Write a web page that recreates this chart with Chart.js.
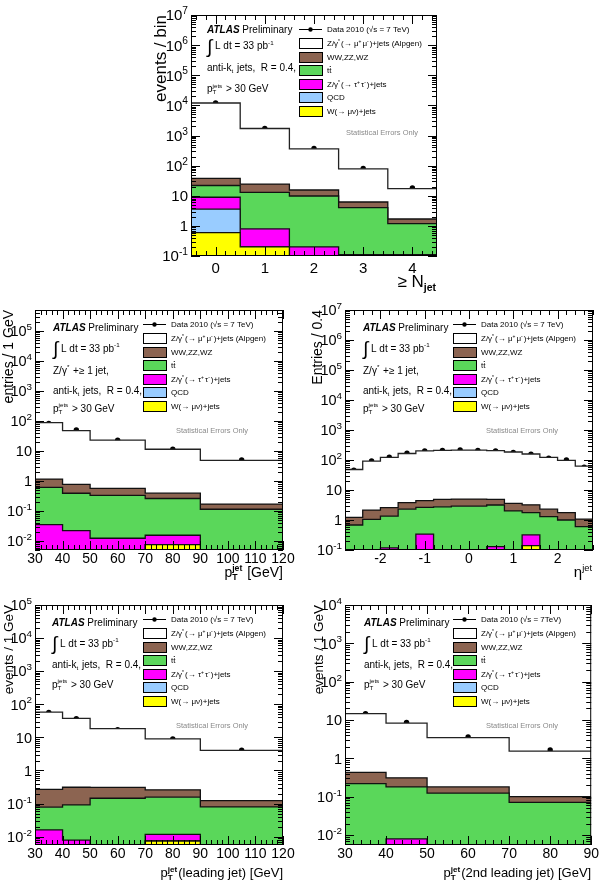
<!DOCTYPE html>
<html lang="en">
<head>
<meta charset="UTF-8">
<title>Z+jets control distributions</title>
<style>
  body { margin: 0; background: #fff; width: 600px; height: 887px; position: relative; overflow: hidden; }
  canvas { position: absolute; }
</style>
</head>
<body>
<canvas id="cNjet" width="330" height="300" style="left:130px;top:0px"></canvas>
<canvas id="cPt" width="300" height="290" style="left:0px;top:300px"></canvas>
<canvas id="cEta" width="300" height="290" style="left:300px;top:300px"></canvas>
<canvas id="cLead" width="300" height="297" style="left:0px;top:590px"></canvas>
<canvas id="cSecond" width="300" height="297" style="left:300px;top:590px"></canvas>

<script src="https://cdn.jsdelivr.net/npm/chart.js@4.4.0/dist/chart.umd.min.js"></script>
<script>
// ---- inclusive jet multiplicity ----
const njetEdges = [-0.5, 0.5, 1.5, 2.5, 3.5, 4.5];
const njetTicks = [0, 1, 2, 3, 4];
const njetYTicks = [0.1, 1, 10, 100, 1e3, 1e4, 1e5, 1e6, 1e7];
const njetData = [12000, 1700, 370, 80, 18];
const njetZmumu = [11960, 1680, 345, 72, 15.5];
const njetDiboson = [16, 11.5, 5.7, 2.2, 0.5];
const njetTtbar = [13, 12.2, 9.6, 3.9, 1.08];
const njetZtautau = [5.3, 0.6, 0.2, 0.11, 0.11];
const njetQCD = [3.0, 0, 0, 0, 0];
const njetWmunu = [0.6, 0.2, 0, 0, 0];

// ---- jet pT (all jets) ----
const ptEdges = [30, 40, 50, 70, 90, 120];
const ptTicks = [30, 40, 50, 60, 70, 80, 90, 100, 110, 120];
const ptYTicks = [0.01, 0.1, 1, 10, 100, 1e3, 1e4, 1e5];
const ptData = [83, 50, 23, 11.4, 5.0];
const ptZmumu = [87, 47, 22.4, 11, 4.7];
const ptDiboson = [0.55, 0.38, 0.24, 0.13, 0.056];
const ptTtbar = [0.575, 0.368, 0.318, 0.245, 0.114];
const ptZtautau = [0.035, 0.022, 0.0123, 0.008, 0];
const ptQCD = [0, 0, 0, 0, 0];
const ptWmunu = [0, 0, 0, 0.0075, 0];

// ---- jet eta ----
const etaEdges = [-2.8, -2.4, -2.0, -1.6, -1.2, -0.8, -0.4, 0, 0.4, 0.8, 1.2, 1.6, 2.0, 2.4, 2.8];
const etaTicks = [-2, -1, 0, 1, 2];
const etaYTicks = [0.1, 1, 10, 100, 1e3, 1e4, 1e5, 1e6, 1e7];
const etaData = [46, 93, 124, 167, 200, 210, 215, 210, 200, 180, 155, 115, 100, 57];
const etaZmumu = [47, 90, 119, 161, 196, 205, 210, 207, 200, 181, 155, 120, 96, 61];
const etaDiboson = [0.55, 1.1, 1.25, 1.5, 1.75, 2.15, 2.1, 2.1, 1.74, 1.6, 1.45, 1.0, 0.75, 0.47];
const etaTtbar = [0.68, 1.05, 1.23, 2.3, 2.31, 2.75, 2.9, 2.9, 3.03, 2.0, 1.43, 1.29, 1.0, 0.6];
const etaZtautau = [0, 0, 0.117, 0, 0.34, 0, 0, 0, 0.13, 0, 0.18, 0, 0, 0];
const etaQCD = [0, 0, 0, 0, 0, 0, 0, 0, 0, 0, 0, 0, 0, 0];
const etaWmunu = [0, 0, 0, 0, 0, 0, 0, 0, 0, 0, 0.14, 0, 0, 0];

// ---- leading jet pT ----
const leadEdges = [30, 40, 50, 70, 90, 120];
const leadTicks = [30, 40, 50, 60, 70, 80, 90, 100, 110, 120];
const leadYTicks = [0.01, 0.1, 1, 10, 100, 1e3, 1e4, 1e5];
const leadData = [57, 37, 17, 8.9, 4.1];
const leadZmumu = [58, 37, 18, 8.7, 3.9];
const leadDiboson = [0.19, 0.22, 0.165, 0.105, 0.044];
const leadTtbar = [0.062, 0.083, 0.145, 0.144, 0.079];
const leadZtautau = [0.016, 0.0079, 0, 0.0043, 0];
const leadQCD = [0, 0, 0, 0, 0];
const leadWmunu = [0, 0, 0, 0.0074, 0];

// ---- 2nd leading jet pT ----
const secEdges = [30, 40, 50, 70, 90];
const secTicks = [30, 40, 50, 60, 70, 80, 90];
const secYTicks = [0.01, 0.1, 1, 10, 100, 1e3, 1e4];
const secData = [14.7, 8.7, 3.6, 1.65];
const secZmumu = [14.3, 8.0, 3.3, 1.45];
const secDiboson = [0.21, 0.13, 0.056, 0.029];
const secTtbar = [0.22, 0.172, 0.124, 0.071];
const secZtautau = [0, 0.0079, 0, 0];
const secQCD = [0, 0, 0, 0];
const secWmunu = [0, 0, 0, 0];

// stack order, bottom -> top: W, QCD, Z->tautau, ttbar, diboson, Z->mumu
const fillColors = ['#ffff00', '#99ccff', '#ff00ff', '#5ad75a', '#8c6451', '#ffffff'];
const FONT = '"Liberation Sans", Arial, sans-serif';
Chart.defaults.font.family = FONT;
Chart.defaults.color = '#000';

// text with sub/superscripts; returns width
function drawRich(ctx, x, y, parts, size, measureOnly) {
    let cx = x;
    const f = (s, style) => (style || '') + ' ' + s + 'px ' + FONT;
    for (const p of parts) {
        if (typeof p === 'string') {
            ctx.font = f(size);
            if (!measureOnly) ctx.fillText(p, cx, y);
            cx += ctx.measureText(p).width;
        } else if (p.bi) {
            ctx.font = f(size, 'italic bold');
            if (!measureOnly) ctx.fillText(p.bi, cx, y);
            cx += ctx.measureText(p.bi).width;
        } else if (p.big) {
            ctx.font = f(size * 1.9);
            if (!measureOnly) ctx.fillText(p.big, cx, y + size * 0.35);
            cx += ctx.measureText(p.big).width;
        } else if (p.over) {
            ctx.font = f(size);
            const w = ctx.measureText(p.over).width;
            if (!measureOnly) {
                ctx.fillText(p.over, cx, y);
                ctx.fillRect(cx + 0.5, y - size * 0.85, w - 1, 0.8);
            }
            cx += w;
        } else {
            const s = size * (p.r || 0.62);
            ctx.font = f(s, p.b ? 'bold' : '');
            let w = 0;
            if (p.sup) {
                if (!measureOnly) ctx.fillText(p.sup, cx, y - size * 0.42);
                w = Math.max(w, ctx.measureText(p.sup).width);
            }
            if (p.sub) {
                if (!measureOnly) ctx.fillText(p.sub, cx, y + size * 0.22);
                w = Math.max(w, ctx.measureText(p.sub).width);
            }
            cx += w + (p.r ? 0 : 1);
        }
    }
    return cx - x;
}

const atlasLines = {
    atlas: [{bi: 'ATLAS'}, ' Preliminary'],
    lumi: [{big: '∫'}, ' L dt = 33 pb', {sup: '-1'}],
    zjet: ['Z/γ', {sup: '*'}, ' +≥ 1 jet,'],
    antikt: ['anti-k', {sub: 't'}, ' jets,  R = 0.4,'],
    ptcut: ['p', {sub: 'T', sup: 'jets'}, ' > 30 GeV']
};
function legendLabels(sqrtText) {
    return [
        ['Data 2010 (√s = ' + sqrtText + ')'],
        ['Z/γ', {sup: '*'}, '(→ μ', {sup: '+'}, 'μ', {sup: '-'}, ')+jets (Alpgen)'],
        ['WW,ZZ,WZ'],
        ['t', {over: 't'}],
        ['Z/γ', {sup: '*'}, '(→ τ', {sup: '+'}, 'τ', {sup: '-'}, ')+jets'],
        ['QCD'],
        ['W(→ μν)+jets']
    ];
}
const legendColors = [null, '#ffffff', '#8c6451', '#5ad75a', '#ff00ff', '#99ccff', '#ffff00'];

// frame, inward ticks, decade labels, legend and texts in ROOT style
const atlasDeco = {
    id: 'atlasDeco',
    afterDraw(chart, args, o) {
        const {ctx, chartArea: a, scales: {x, y}} = chart;
        ctx.save();
        ctx.strokeStyle = '#000';
        ctx.fillStyle = '#000';
        ctx.lineWidth = 1;
        const seg = (x1, y1, x2, y2) => { ctx.beginPath(); ctx.moveTo(x1, y1); ctx.lineTo(x2, y2); ctx.stroke(); };
        ctx.strokeRect(a.left + 0.5, a.top + 0.5, a.right - a.left - 1, a.bottom - a.top - 1);

        // y ticks (log)
        for (let d = Math.floor(Math.log10(y.min)); d <= Math.ceil(Math.log10(y.max)); d++) {
            for (let k = 1; k < 10; k++) {
                const v = k * Math.pow(10, d);
                if (v < y.min * 0.999 || v > y.max * 1.001) continue;
                const py = Math.round(y.getPixelForValue(v)) + 0.5;
                const len = k === 1 ? 9 : 5;
                seg(a.left, py, a.left + len, py);
                seg(a.right, py, a.right - len, py);
            }
        }
        // y decade labels
        ctx.textBaseline = 'alphabetic';
        y.ticks.forEach(t => {
            const e = Math.round(Math.log10(t.value));
            const parts = e === 0 ? ['1'] : e === 1 ? ['10'] : ['10', {sup: String(e), r: 0.68}];
            const w = drawRich(ctx, 0, 0, parts, o.ySize, true);
            drawRich(ctx, a.left - 3 - w, y.getPixelForValue(t.value) + o.ySize * 0.36, parts, o.ySize);
        });

        // x ticks
        const n0 = Math.ceil(x.min / o.xMinor - 1e-6), n1 = Math.floor(x.max / o.xMinor + 1e-6);
        for (let n = n0; n <= n1; n++) {
            const v = n * o.xMinor;
            const major = o.xMajor.some(t => Math.abs(t - v) < 1e-6);
            const px = Math.round(x.getPixelForValue(v)) + 0.5;
            const len = major ? 9 : 5;
            seg(px, a.bottom, px, a.bottom - len);
            seg(px, a.top, px, a.top + len);
        }

        // annotation block
        o.ann.forEach(r => drawRich(ctx, a.left + o.annX, a.top + r[0], atlasLines[r[1]], 10));

        // legend
        const lx = a.left + 108, bw = 23, bh = 10;
        legendLabels(o.sqrtS).forEach((lab, i) => {
            const cy = a.top + o.legY[i];
            if (i === 0) {
                seg(lx, cy + 0.5, lx + bw, cy + 0.5);
                ctx.beginPath(); ctx.arc(lx + bw / 2, cy + 0.5, 2.2, 0, Math.PI * 2); ctx.fill();
            } else {
                ctx.fillStyle = legendColors[i];
                ctx.fillRect(lx, cy - bh / 2, bw, bh);
                ctx.fillStyle = '#000';
                ctx.strokeRect(lx + 0.5, cy - bh / 2 + 0.5, bw, bh);
            }
            drawRich(ctx, lx + 28, cy + 3, lab, 8);
        });

        ctx.fillStyle = '#8a8a8a';
        ctx.font = '7.5px ' + FONT;
        ctx.fillText('Statistical Errors Only', a.left + o.statX, a.top + o.statY + 3);

        // x-axis title, right aligned
        ctx.fillStyle = '#000';
        const w = drawRich(ctx, 0, 0, o.xTitle, o.xTitleSize, true);
        drawRich(ctx, a.right - w, a.bottom + o.xTitleDy, o.xTitle, o.xTitleSize);
        ctx.restore();
    }
};

function stepPts(edges, vals) {
    const floor = v => Math.max(v, 1e-9);
    const pts = vals.map((v, i) => ({x: edges[i], y: floor(v)}));
    pts.push({x: edges[edges.length - 1], y: floor(vals[vals.length - 1])});
    return pts;
}

function makePanel(id, edges, comps, dataVals, xTicks, yTicks, look) {
    let run = comps[0].map(() => 0);
    const datasets = comps.map((c, k) => {
        run = run.map((r, i) => r + c[i]);
        return {
            data: stepPts(edges, run),
            stepped: true,
            fill: k === 0 ? 'start' : '-1',
            backgroundColor: fillColors[k],
            borderColor: k === 5 ? '#222' : '#111',
            borderWidth: 1.3,
            pointRadius: 0
        };
    });
    datasets.push({
        data: dataVals.map((v, i) => ({x: (edges[i] + edges[i + 1]) / 2, y: v})),
        showLine: false,
        fill: false,
        pointRadius: 2.7,
        pointBackgroundColor: '#000',
        pointBorderColor: '#000',
        pointBorderWidth: 0
    });

    return new Chart(document.getElementById(id), {
        type: 'line',
        data: {datasets: datasets},
        plugins: [atlasDeco],
        options: {
            responsive: false,
            animation: false,
            layout: {padding: {top: look.top, right: look.right, left: 0, bottom: 0}},
            plugins: {
                legend: {display: false},
                tooltip: {enabled: false},
                atlasDeco: look.deco
            },
            scales: {
                x: {
                    type: 'linear',
                    min: edges[0],
                    max: edges[edges.length - 1],
                    grid: {display: false, drawTicks: false},
                    border: {display: false},
                    afterFit: s => { s.height = look.xH; },
                    afterBuildTicks: s => { s.ticks = xTicks.map(v => ({value: v})); },
                    ticks: {
                        autoSkip: false, maxRotation: 0, padding: look.xPad,
                        font: {size: look.tickSize}, color: '#000',
                        callback: v => String(v)
                    }
                },
                y: {
                    type: 'logarithmic',
                    min: look.yMin,
                    max: look.yMax,
                    grid: {display: false, drawTicks: false},
                    border: {display: false},
                    afterFit: s => { s.width = look.yW; },
                    afterBuildTicks: s => { s.ticks = yTicks.map(v => ({value: v})); },
                    ticks: {display: false},
                    title: {
                        display: true, text: look.yTitle, align: 'end', color: '#000',
                        font: {size: look.yTitleSize}, padding: {top: look.yTitlePad, bottom: 0}
                    }
                }
            }
        }
    });
}

const legRows = [14, 28, 42, 55, 69, 82, 96];

makePanel('cNjet', njetEdges,
    [njetWmunu, njetQCD, njetZtautau, njetTtbar, njetDiboson, njetZmumu], njetData,
    njetTicks, njetYTicks, {
        top: 15, right: 23, yW: 61, xH: 44, xPad: 4, tickSize: 15,
        yMin: 0.1, yMax: 1e7, yTitle: 'events / bin', yTitleSize: 17, yTitlePad: 21,
        deco: {
            ySize: 15, xMinor: 0.2, xMajor: njetTicks, annX: 16,
            ann: [[17.5, 'atlas'], [34, 'lumi'], [55.5, 'antikt'], [77, 'ptcut']],
            legY: legRows, sqrtS: '7 TeV', statX: 155, statY: 117,
            xTitle: ['≥ N', {sub: 'jet', b: true}], xTitleSize: 17, xTitleDy: 31
        }
    });

makePanel('cPt', ptEdges,
    [ptWmunu, ptQCD, ptZtautau, ptTtbar, ptDiboson, ptZmumu], ptData,
    ptTicks, ptYTicks, {
        top: 10, right: 17, yW: 35, xH: 40, xPad: 1, tickSize: 14,
        yMin: 0.005, yMax: 5e5, yTitle: 'entries / 1 GeV', yTitleSize: 14, yTitlePad: 1,
        deco: {
            ySize: 14.5, xMinor: 2, xMajor: ptTicks, annX: 18,
            ann: [[20.5, 'atlas'], [41.5, 'lumi'], [63.5, 'zjet'], [83.5, 'antikt'], [101.5, 'ptcut']],
            legY: legRows, sqrtS: '7 TeV', statX: 141, statY: 120,
            xTitle: ['p', {sub: 'T', sup: 'jet', b: true}, ' [GeV]'], xTitleSize: 14, xTitleDy: 27
        }
    });

makePanel('cEta', etaEdges,
    [etaWmunu, etaQCD, etaZtautau, etaTtbar, etaDiboson, etaZmumu], etaData,
    etaTicks, etaYTicks, {
        top: 10, right: 7, yW: 45, xH: 40, xPad: 1, tickSize: 14,
        yMin: 0.1, yMax: 1e7, yTitle: 'Entries / 0.4', yTitleSize: 14, yTitlePad: 10,
        deco: {
            ySize: 14.5, xMinor: 0.2, xMajor: etaTicks, annX: 18,
            ann: [[20.5, 'atlas'], [41.5, 'lumi'], [63.5, 'zjet'], [83.5, 'antikt'], [101.5, 'ptcut']],
            legY: legRows, sqrtS: '7 TeV', statX: 141, statY: 120,
            xTitle: ['η', {sup: 'jet'}], xTitleSize: 15, xTitleDy: 27
        }
    });

makePanel('cLead', leadEdges,
    [leadWmunu, leadQCD, leadZtautau, leadTtbar, leadDiboson, leadZmumu], leadData,
    leadTicks, leadYTicks, {
        top: 15, right: 17, yW: 35, xH: 42, xPad: 1, tickSize: 14,
        yMin: 0.0056, yMax: 1e5, yTitle: 'events / 1 GeV', yTitleSize: 13.5, yTitlePad: 1,
        deco: {
            ySize: 14.5, xMinor: 2, xMajor: leadTicks, annX: 17,
            ann: [[20.5, 'atlas'], [41.5, 'lumi'], [62.5, 'antikt'], [82.5, 'ptcut']],
            legY: legRows, sqrtS: '7 TeV', statX: 141, statY: 120,
            xTitle: ['p', {sub: 'T', sup: 'jet', b: true}, '(leading jet) [GeV]'], xTitleSize: 13, xTitleDy: 32
        }
    });

makePanel('cSecond', secEdges,
    [secWmunu, secQCD, secZtautau, secTtbar, secDiboson, secZmumu], secData,
    secTicks, secYTicks, {
        top: 15, right: 7, yW: 45, xH: 42, xPad: 1, tickSize: 14,
        yMin: 0.0055, yMax: 1e4, yTitle: 'events / 1 GeV', yTitleSize: 13.5, yTitlePad: 11,
        deco: {
            ySize: 14.5, xMinor: 2, xMajor: secTicks, annX: 19,
            ann: [[20.5, 'atlas'], [41.5, 'lumi'], [62.5, 'antikt'], [82.5, 'ptcut']],
            legY: legRows, sqrtS: '7TeV', statX: 141, statY: 120,
            xTitle: ['p', {sub: 'T', sup: 'jet', b: true}, '(2nd leading jet) [GeV]'], xTitleSize: 13, xTitleDy: 32
        }
    });
</script>
</body>
</html>
